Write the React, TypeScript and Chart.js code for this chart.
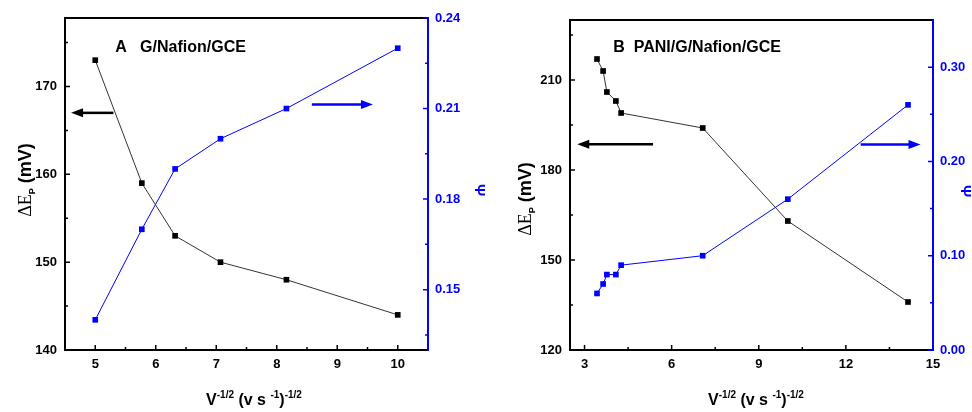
import React, { useEffect, useRef } from 'react';
import { Chart, registerables } from 'chart.js';

Chart.register(...registerables);

const BLUE = '#0000ff';
const BLACK = '#000000';
const SANS = '"Liberation Sans", Arial, sans-serif';
const SERIF = '"Liberation Serif", "Times New Roman", serif';

// ---------- Panel A : G/Nafion/GCE ----------
const xA = [5, 5.77, 6.32, 7.07, 8.16, 10];
const dEpA = [173, 159, 153, 150, 148, 144];
const psiA = [0.14, 0.17, 0.19, 0.2, 0.21, 0.23];
const xTicksA = [5, 6, 7, 8, 9, 10];
const leftTicksA = [140, 150, 160, 170];
const rightTicksA = [0.15, 0.18, 0.21, 0.24];
const labelA = 'A   G/Nafion/GCE';
const labelPosA = [5.33, 173.9];
const leftArrowA = [5.3, 4.6, 167];
const rightArrowA = [8.58, 9.59, 0.2113];

// ---------- Panel B : PANI/G/Nafion/GCE ----------
const xB = [3.43, 3.64, 3.77, 4.08, 4.26, 7.07, 10, 14.14];
const dEpB = [217, 213, 206, 203, 199, 194, 163, 136];
const psiB = [0.06, 0.07, 0.08, 0.08, 0.09, 0.1, 0.16, 0.26];
const xTicksB = [3, 6, 9, 12, 15];
const leftTicksB = [120, 150, 180, 210];
const rightTicksB = [0.0, 0.1, 0.2, 0.3];
const labelB = 'B  PANI/G/Nafion/GCE';
const labelPosB = [3.99, 219.4];
const leftArrowB = [5.36, 2.75, 188.6];
const rightArrowB = [12.51, 14.57, 0.218];

interface PanelCfg {
  offsetX: number;
  x: number[];
  left: number[];
  right: number[];
  xRange: [number, number];
  leftRange: [number, number];
  rightRange: [number, number];
  xTicks: number[];
  leftTicks: number[];
  rightTicks: number[];
  label: string;
  labelPos: number[];
  leftArrow: number[];
  rightArrow: number[];
  box: { left: number; right: number; top: number; bottom: number };
  leftTitle: { x: number; y: number };
  rightTitle: { x: number; y: number };
  xTitle: { x: number; y: number };
}

const W = 486;
const H = 412;

const panelA: PanelCfg = {
  offsetX: 0,
  x: xA,
  left: dEpA,
  right: psiA,
  xRange: [4.5, 10.5],
  leftRange: [140, 177.8],
  rightRange: [0.13, 0.24],
  xTicks: xTicksA,
  leftTicks: leftTicksA,
  rightTicks: rightTicksA,
  label: labelA,
  labelPos: labelPosA,
  leftArrow: leftArrowA,
  rightArrow: rightArrowA,
  box: { left: 65, right: 58, top: 18, bottom: 62 },
  leftTitle: { x: 31, y: 180 },
  rightTitle: { x: 479, y: 190 },
  xTitle: { x: 254, y: 405 },
};

const panelB: PanelCfg = {
  offsetX: 486,
  x: xB,
  left: dEpB,
  right: psiB,
  xRange: [2.5, 15],
  leftRange: [120, 230],
  rightRange: [0, 0.35],
  xTicks: xTicksB,
  leftTicks: leftTicksB,
  rightTicks: rightTicksB,
  label: labelB,
  labelPos: labelPosB,
  leftArrow: leftArrowB,
  rightArrow: rightArrowB,
  box: { left: 84, right: 39, top: 20, bottom: 62 },
  leftTitle: { x: 45, y: 199 },
  rightTitle: { x: 479, y: 191 },
  xTitle: { x: 270, y: 405 },
};

function minorsOf(majors: number[], min: number, max: number): number[] {
  const step = majors[1] - majors[0];
  const res: number[] = [];
  const eps = step * 1e-3;
  for (let v = majors[0] - step / 2; v < max - eps; v += step) {
    if (v > min + eps) res.push(v);
  }
  return res;
}

type Piece = { t: string; font: string; dy: number };

function drawPieces(ctx: CanvasRenderingContext2D, pieces: Piece[], cx: number, baseY: number) {
  let total = 0;
  for (const p of pieces) {
    ctx.font = p.font;
    total += ctx.measureText(p.t).width;
  }
  let x = cx - total / 2;
  ctx.textAlign = 'left';
  ctx.textBaseline = 'alphabetic';
  for (const p of pieces) {
    ctx.font = p.font;
    ctx.fillText(p.t, x, baseY + p.dy);
    x += ctx.measureText(p.t).width;
  }
}

function drawArrow(ctx: CanvasRenderingContext2D, x0: number, x1: number, y: number, color: string) {
  const dir = x1 > x0 ? 1 : -1;
  const head = 12;
  const half = 4.5;
  ctx.save();
  ctx.strokeStyle = color;
  ctx.fillStyle = color;
  ctx.lineWidth = 2.5;
  ctx.beginPath();
  ctx.moveTo(x0, y);
  ctx.lineTo(x1 - dir * head + dir, y);
  ctx.stroke();
  ctx.beginPath();
  ctx.moveTo(x1, y);
  ctx.lineTo(x1 - dir * head, y - half);
  ctx.lineTo(x1 - dir * head, y + half);
  ctx.closePath();
  ctx.fill();
  ctx.restore();
}

function makeDecor(cfg: PanelCfg) {
  return {
    id: 'decor',
    afterDraw(chart: any) {
      const ctx: CanvasRenderingContext2D = chart.ctx;
      const { left, right, top, bottom } = chart.chartArea;
      const sx = chart.scales.x;
      const sy = chart.scales.y;
      const sy1 = chart.scales.y1;
      ctx.save();

      // top frame
      ctx.strokeStyle = BLACK;
      ctx.lineWidth = 2;
      ctx.beginPath();
      ctx.moveTo(left - 1, top);
      ctx.lineTo(right, top);
      ctx.stroke();

      // inside ticks
      const tick = (color: string, segs: number[][]) => {
        ctx.strokeStyle = color;
        ctx.lineWidth = 1.5;
        ctx.beginPath();
        for (const s of segs) {
          ctx.moveTo(s[0], s[1]);
          ctx.lineTo(s[2], s[3]);
        }
        ctx.stroke();
      };
      const MAJ = 5;
      const MIN = 3;
      const xMin = minorsOf(cfg.xTicks, cfg.xRange[0], cfg.xRange[1]);
      const lMin = minorsOf(cfg.leftTicks, cfg.leftRange[0], cfg.leftRange[1]);
      const rMin = minorsOf(cfg.rightTicks, cfg.rightRange[0], cfg.rightRange[1]);
      tick(BLACK, [
        ...cfg.xTicks.map((v) => { const p = sx.getPixelForValue(v); return [p, bottom, p, bottom - MAJ]; }),
        ...xMin.map((v) => { const p = sx.getPixelForValue(v); return [p, bottom, p, bottom - MIN]; }),
        ...cfg.leftTicks.map((v) => { const p = sy.getPixelForValue(v); return [left, p, left + MAJ, p]; }),
        ...lMin.map((v) => { const p = sy.getPixelForValue(v); return [left, p, left + MIN, p]; }),
      ]);
      tick(BLUE, [
        ...cfg.rightTicks.map((v) => { const p = sy1.getPixelForValue(v); return [right, p, right - MAJ, p]; }),
        ...rMin.map((v) => { const p = sy1.getPixelForValue(v); return [right, p, right - MIN, p]; }),
      ]);

      // right axis line redrawn in blue over the frame corner
      ctx.strokeStyle = BLUE;
      ctx.lineWidth = 2;
      ctx.beginPath();
      ctx.moveTo(right, top - 1);
      ctx.lineTo(right, bottom);
      ctx.stroke();

      // panel label
      ctx.fillStyle = BLACK;
      ctx.font = `bold 16px ${SANS}`;
      ctx.textAlign = 'left';
      ctx.textBaseline = 'alphabetic';
      ctx.fillText(cfg.label, sx.getPixelForValue(cfg.labelPos[0]), sy.getPixelForValue(cfg.labelPos[1]));

      // arrows
      drawArrow(ctx, sx.getPixelForValue(cfg.leftArrow[0]), sx.getPixelForValue(cfg.leftArrow[1]), sy.getPixelForValue(cfg.leftArrow[2]), BLACK);
      drawArrow(ctx, sx.getPixelForValue(cfg.rightArrow[0]), sx.getPixelForValue(cfg.rightArrow[1]), sy1.getPixelForValue(cfg.rightArrow[2]), BLUE);

      // x title
      ctx.fillStyle = BLACK;
      const big = `bold 16px ${SANS}`;
      const sup = `bold 10px ${SANS}`;
      drawPieces(ctx, [
        { t: 'V', font: big, dy: 0 },
        { t: '-1/2', font: sup, dy: -7 },
        { t: ' (v s ', font: big, dy: 0 },
        { t: '-1', font: sup, dy: -7 },
        { t: ')', font: big, dy: 0 },
        { t: '-1/2', font: sup, dy: -7 },
      ], cfg.xTitle.x, cfg.xTitle.y);

      // left title (rotated)
      ctx.save();
      ctx.translate(cfg.leftTitle.x, cfg.leftTitle.y);
      ctx.rotate(-Math.PI / 2);
      drawPieces(ctx, [
        { t: '\u0394E', font: `18px ${SERIF}`, dy: 0 },
        { t: 'P', font: `bold 9px ${SANS}`, dy: 4 },
        { t: ' (mV)', font: `bold 18px ${SANS}`, dy: 0 },
      ], 0, 0);
      ctx.restore();

      // right title (rotated)
      ctx.save();
      ctx.translate(cfg.rightTitle.x, cfg.rightTitle.y);
      ctx.rotate(Math.PI / 2);
      ctx.fillStyle = BLUE;
      ctx.font = `bold 15px ${SANS}`;
      ctx.textAlign = 'center';
      ctx.textBaseline = 'middle';
      ctx.fillText('\u03A8', 0, 0);
      ctx.restore();

      ctx.restore();
    },
  };
}

function buildConfig(cfg: PanelCfg): any {
  const tickFont = { family: SANS, size: 13, weight: 'bold' as const };
  return {
    type: 'line',
    data: {
      datasets: [
        {
          data: cfg.x.map((v, i) => ({ x: v, y: cfg.left[i] })),
          yAxisID: 'y',
          borderColor: '#333333',
          borderWidth: 1,
          pointStyle: 'rect',
          pointRadius: 4,
          pointBackgroundColor: BLACK,
          pointBorderColor: BLACK,
          pointBorderWidth: 0,
          tension: 0,
          fill: false,
        },
        {
          data: cfg.x.map((v, i) => ({ x: v, y: cfg.right[i] })),
          yAxisID: 'y1',
          borderColor: BLUE,
          borderWidth: 1,
          pointStyle: 'rect',
          pointRadius: 4,
          pointBackgroundColor: BLUE,
          pointBorderColor: BLUE,
          pointBorderWidth: 0,
          tension: 0,
          fill: false,
        },
      ],
    },
    options: {
      animation: false,
      responsive: false,
      devicePixelRatio: 1,
      layout: { padding: { left: 0, right: 0, top: cfg.box.top, bottom: 0 } },
      plugins: { legend: { display: false }, tooltip: { enabled: false } },
      scales: {
        x: {
          type: 'linear',
          position: 'bottom',
          min: cfg.xRange[0],
          max: cfg.xRange[1],
          grid: { display: false, drawTicks: false },
          border: { display: true, color: BLACK, width: 2 },
          ticks: { color: BLACK, font: tickFont, padding: 7, maxRotation: 0, autoSkip: false },
          afterBuildTicks: (s: any) => { s.ticks = cfg.xTicks.map((v) => ({ value: v })); },
          afterFit: (s: any) => { s.height = cfg.box.bottom; },
        },
        y: {
          type: 'linear',
          position: 'left',
          min: cfg.leftRange[0],
          max: cfg.leftRange[1],
          grid: { display: false, drawTicks: false },
          border: { display: true, color: BLACK, width: 2 },
          ticks: { color: BLACK, font: tickFont, padding: 8, autoSkip: false },
          afterBuildTicks: (s: any) => { s.ticks = cfg.leftTicks.map((v) => ({ value: v })); },
          afterFit: (s: any) => { s.width = cfg.box.left; },
        },
        y1: {
          type: 'linear',
          position: 'right',
          min: cfg.rightRange[0],
          max: cfg.rightRange[1],
          grid: { display: false, drawTicks: false },
          border: { display: true, color: BLUE, width: 2 },
          ticks: {
            color: BLUE,
            font: tickFont,
            padding: 7,
            autoSkip: false,
            callback: (v: number) => Number(v).toFixed(2),
          },
          afterBuildTicks: (s: any) => { s.ticks = cfg.rightTicks.map((v) => ({ value: v })); },
          afterFit: (s: any) => { s.width = cfg.box.right; },
        },
      },
    },
    plugins: [makeDecor(cfg)],
  };
}

function Panel({ cfg }: { cfg: PanelCfg }) {
  const ref = useRef<HTMLCanvasElement>(null);
  useEffect(() => {
    const chart = new Chart(ref.current as HTMLCanvasElement, buildConfig(cfg));
    return () => chart.destroy();
  }, [cfg]);
  return (
    <canvas
      ref={ref}
      width={W}
      height={H}
      style={{ position: 'absolute', left: cfg.offsetX, top: 0, width: W, height: H }}
    />
  );
}

export default function App() {
  return (
    <div
      style={{
        position: 'fixed',
        left: 0,
        top: 0,
        width: 972,
        height: 412,
        background: '#ffffff',
        overflow: 'hidden',
      }}
    >
      <Panel cfg={panelA} />
      <Panel cfg={panelB} />
    </div>
  );
}
